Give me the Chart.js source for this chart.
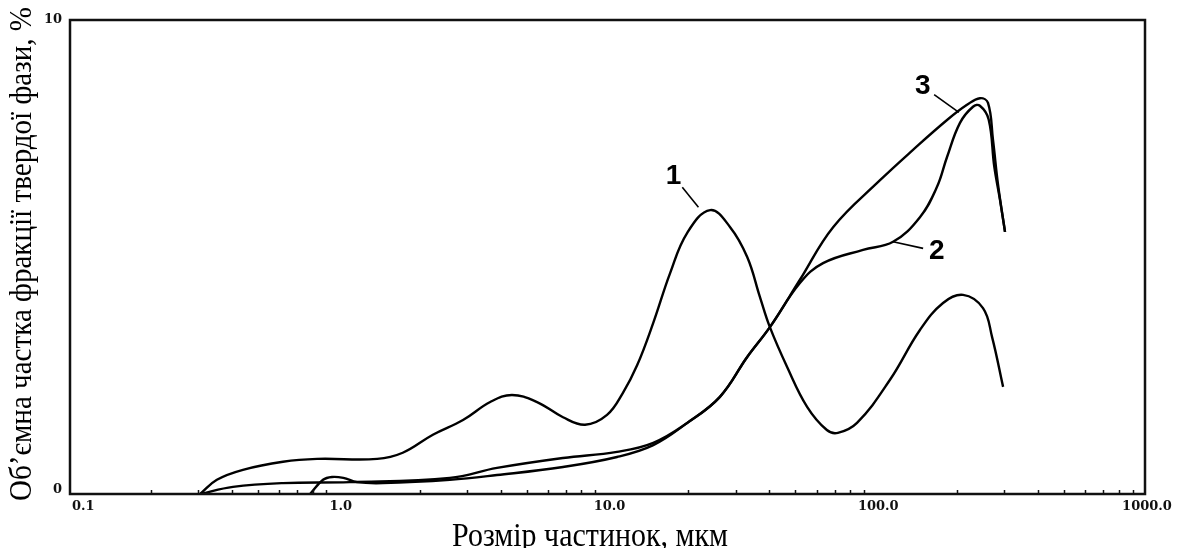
<!DOCTYPE html>
<html>
<head>
<meta charset="utf-8">
<script src="https://cdn.jsdelivr.net/npm/chart.js@4/dist/chart.umd.min.js"></script>
<style>
html,body{margin:0;padding:0;background:#fff;}
#wrap{width:1179px;height:548px;position:relative;}
</style>
</head>
<body>
<div id="wrap"><canvas id="c" width="1179" height="548"></canvas></div>
<script>
// ---- data (particle size in µm, volume fraction in %) ----
const curve1X = [0.305,0.352,0.440,0.620,0.830,1.39,1.73,2.24,2.90,3.66,4.41,5.47,6.83,8.25,9.96,11.4,12.9,14.8,17.1,19.8,24.1,28.6,33.1,36.9,40.2,46.6,55.3,65.5,72.0,84.8,112.5,145.4,177.2,210.4,249.6,269.8,296.5];
const curve1Y = [0,0.30,0.51,0.68,0.74,0.74,0.87,1.25,1.56,1.94,2.09,1.94,1.62,1.46,1.67,2.13,2.72,3.61,4.66,5.51,5.99,5.63,5.00,4.16,3.52,2.68,1.84,1.35,1.29,1.50,2.41,3.46,4.03,4.20,3.92,3.31,2.26];

const curve2X = [0.305,0.404,0.620,1.10,2.59,3.88,6.83,10.85,14.8,19.8,26.2,33.1,40.2,52.0,63.4,89.3,115.5,145.4,168.3,183.4,204.9,229.1,243.0,262.0,275.0,288.8,301.4];
const curve2Y = [0,0.15,0.23,0.25,0.34,0.55,0.76,0.89,1.08,1.50,2.05,2.89,3.52,4.45,4.87,5.15,5.32,5.84,6.48,7.11,7.83,8.17,8.19,7.90,6.90,6.20,5.53];

const curve3X = [0.782,0.874,0.944,1.04,1.17,1.46,2.59,3.88,6.83,10.85,14.8,19.8,26.2,33.1,40.2,52.0,69.1,103.3,137.0,183.4,217.6,243.2,260.5,271.9,284.0,301.4];
const curve3Y = [0,0.30,0.36,0.34,0.25,0.23,0.30,0.40,0.57,0.78,1.03,1.50,2.05,2.89,3.52,4.52,5.63,6.62,7.26,7.89,8.21,8.35,8.25,7.47,6.52,5.53];

const xTickValues = [0.1, 1, 10, 100, 1000];
const xTickLabels = ["0.1", "1.0", "10.0", "100.0", "1000.0"];
const yTickValues = [0, 10];
const yTickLabels = ["0", "10"];

const curveLabels = ["1", "2", "3"];
// label anchor (data coords) and leader line end on the curve (data coords)
const labelAnchors = [
  {text:"1", lx:17.6, ly:6.7, ax:21.8, ay:6.05},
  {text:"2", lx:168, ly:5.12, ax:115.5, ay:5.32},
  {text:"3", lx:149, ly:8.6, ax:203, ay:8.05}
];

const xTitle = "Розмір частинок, мкм";
const yTitle = "Об’ємна частка фракції твердої фази, %";

function pts(xs, ys){ return xs.map((x,i)=>({x:x, y:ys[i]})); }

const decorPlugin = {
  id: 'decor',
  afterDraw(chart){
    const ctx = chart.ctx;
    const a = chart.chartArea;
    const xs = chart.scales.x, ys = chart.scales.y;
    ctx.save();
    // frame
    ctx.strokeStyle = '#111';
    ctx.lineWidth = 2.5;
    ctx.strokeRect(a.left, a.top, a.right - a.left, a.bottom - a.top);
    // minor ticks (inside, pointing up)
    ctx.lineWidth = 1.5;
    for (let d = 0; d < xTickValues.length - 1; d++) {
      for (let m = 2; m <= 9; m++) {
        const v = xTickValues[d] * m;
        const px = Math.round(xs.getPixelForValue(v)) + 0.5;
        ctx.beginPath();
        ctx.moveTo(px, a.bottom);
        ctx.lineTo(px, a.bottom - 4);
        ctx.stroke();
      }
    }
    // x tick labels
    ctx.fillStyle = '#111';
    ctx.font = 'bold 13px "DejaVu Serif"';
    ctx.textBaseline = 'top';
    xTickValues.forEach((v, i) => {
      const px = xs.getPixelForValue(v);
      if (i === 0) { ctx.textAlign = 'left'; ctx.fillText(xTickLabels[i], px + 2, a.bottom + 6); }
      else { ctx.textAlign = 'center'; ctx.fillText(xTickLabels[i], px + 2, a.bottom + 6); }
    });
    // y tick labels
    ctx.textAlign = 'right';
    ctx.textBaseline = 'middle';
    yTickValues.forEach((v, i) => {
      const py = ys.getPixelForValue(v);
      ctx.fillText(yTickLabels[i], a.left - 8, py - (i === 0 ? 4 : 0));
    });
    // axis titles (fitted)
    function fitted(text, cx, cy, rot, len, size){
      ctx.save();
      ctx.font = size + 'px "Liberation Serif"';
      const w = ctx.measureText(text).width;
      ctx.translate(cx, cy);
      ctx.rotate(rot);
      ctx.scale(len / w, 1);
      ctx.textAlign = 'center';
      ctx.textBaseline = 'alphabetic';
      ctx.fillStyle = '#000';
      ctx.fillText(text, 0, 0);
      ctx.restore();
    }
    fitted(xTitle, 590, 546, 0, 276, 33);
    fitted(yTitle, 31, 254, -Math.PI/2, 494, 31);
    // curve labels with leader lines
    ctx.strokeStyle = '#000';
    ctx.lineWidth = 1.6;
    ctx.font = 'bold 28px "Liberation Sans"';
    ctx.textAlign = 'center';
    ctx.textBaseline = 'middle';
    ctx.fillStyle = '#000';
    labelAnchors.forEach(l => {
      const lx = xs.getPixelForValue(l.lx), ly = ys.getPixelForValue(l.ly);
      const ax = xs.getPixelForValue(l.ax), ay = ys.getPixelForValue(l.ay);
      ctx.fillText(l.text, lx, ly);
      const dx = ax - lx, dy = ay - ly, d = Math.hypot(dx, dy);
      const sx = lx + dx / d * 14, sy = ly + dy / d * 14;
      ctx.beginPath();
      ctx.moveTo(sx, sy);
      ctx.lineTo(ax, ay);
      ctx.stroke();
    });
    ctx.restore();
  }
};

const ds = (data) => ({
  data: data, borderColor: '#000', borderWidth: 2.4, pointRadius: 0,
  fill: false, tension: 0.4
});

new Chart(document.getElementById('c'), {
  type: 'line',
  data: {
    datasets: [
      Object.assign(ds(pts(curve1X, curve1Y)), {label: curveLabels[0]}),
      Object.assign(ds(pts(curve2X, curve2Y)), {label: curveLabels[1]}),
      Object.assign(ds(pts(curve3X, curve3Y)), {label: curveLabels[2]})
    ]
  },
  options: {
    responsive: false,
    animation: false,
    layout: { padding: { left: 70, right: 34, top: 20, bottom: 54 } },
    plugins: { legend: { display: false }, tooltip: { enabled: false } },
    scales: {
      x: { type: 'logarithmic', min: 0.1, max: 1000, display: false },
      y: { type: 'linear', min: 0, max: 10, display: false }
    }
  },
  plugins: [decorPlugin]
});
</script>
</body>
</html>
